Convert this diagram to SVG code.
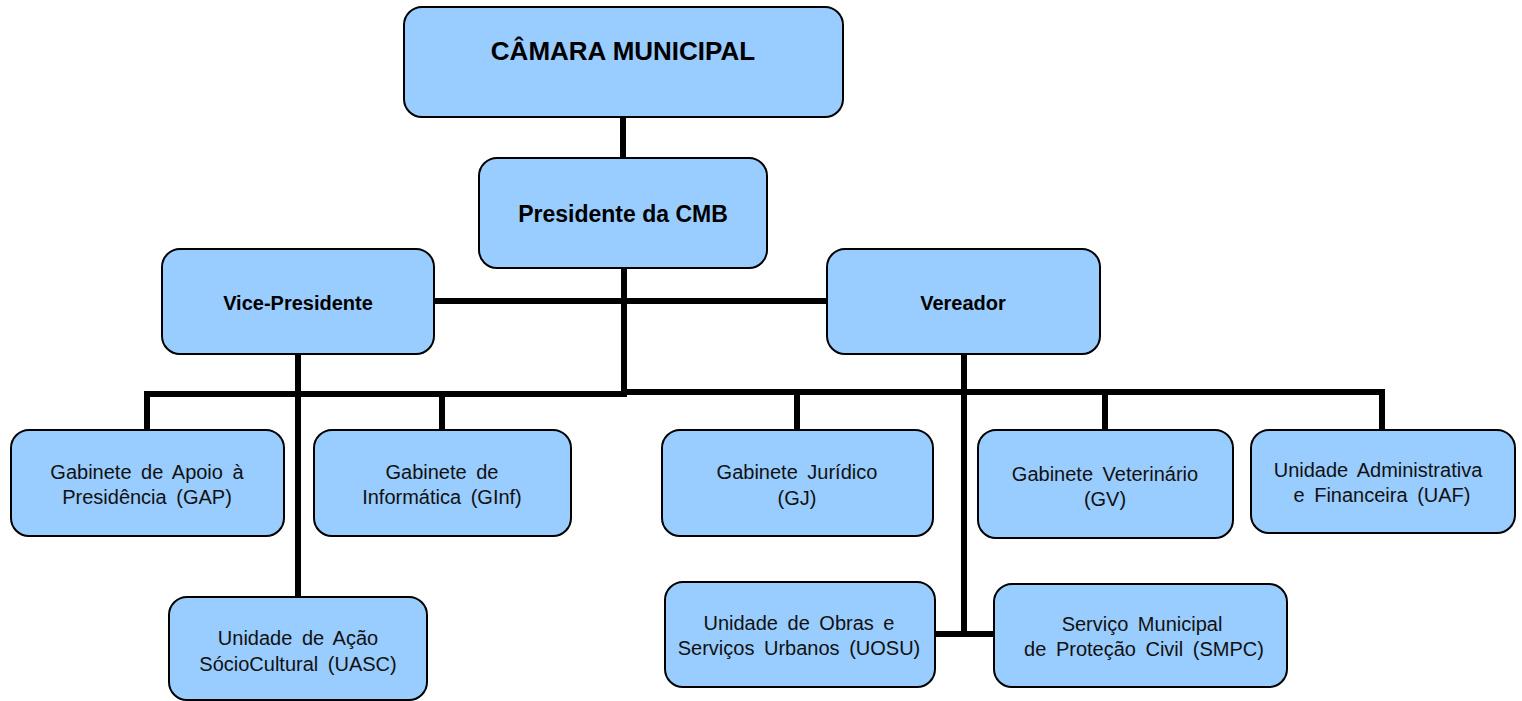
<svg xmlns="http://www.w3.org/2000/svg" width="1522" height="701" viewBox="0 0 1522 701">
<style>
.box{fill:#99CCFF;stroke:#000;stroke-width:2}
.ln{fill:none;stroke:#000;stroke-width:6;stroke-linejoin:miter;stroke-linecap:butt}
.t{font-family:"Liberation Sans",Arial,sans-serif;font-size:20px;fill:#111;text-anchor:middle;word-spacing:4px}
.b{font-family:"Liberation Sans",Arial,sans-serif;font-weight:bold;fill:#000;text-anchor:middle}
</style>
<rect width="1522" height="701" fill="#fff"/>
<g id="connectors">
<path class="ln" d="M623,117 V158"/>
<path class="ln" d="M624,268 V394"/>
<path class="ln" d="M434,301 H828"/>
<path class="ln" d="M147,430 V394 H627"/>
<path class="ln" d="M621,392 H1382 V430"/>
<path class="ln" d="M442,394 V430"/>
<path class="ln" d="M797,392 V430"/>
<path class="ln" d="M1105,392 V430"/>
<path class="ln" d="M298,354 V597"/>
<path class="ln" d="M964,354 V634"/>
<path class="ln" d="M935,634 H994"/>
</g>
<g id="camara">
<rect class="box" x="404" y="7" width="439" height="110" rx="18"/>
<text class="b" x="623" y="60" font-size="26">CÂMARA MUNICIPAL</text>
</g>
<g id="presidente">
<rect class="box" x="479" y="158" width="288" height="110" rx="18"/>
<text class="b" x="623" y="222" font-size="23">Presidente da CMB</text>
</g>
<g id="vice">
<rect class="box" x="162" y="249" width="272" height="105" rx="18"/>
<text class="b" x="298" y="310" font-size="20">Vice-Presidente</text>
</g>
<g id="vereador">
<rect class="box" x="827" y="249" width="273" height="105" rx="18"/>
<text class="b" x="963" y="310" font-size="20">Vereador</text>
</g>
<g id="gap">
<rect class="box" x="11" y="430" width="273" height="106" rx="18"/>
<text class="t" x="147" y="479">Gabinete de Apoio à</text>
<text class="t" x="147" y="504">Presidência (GAP)</text>
</g>
<g id="ginf">
<rect class="box" x="314" y="430" width="257" height="106" rx="18"/>
<text class="t" x="442" y="479">Gabinete de</text>
<text class="t" x="442" y="504">Informática (GInf)</text>
</g>
<g id="gj">
<rect class="box" x="662" y="430" width="271" height="106" rx="18"/>
<text class="t" x="797" y="479">Gabinete Jurídico</text>
<text class="t" x="797" y="505">(GJ)</text>
</g>
<g id="gv">
<rect class="box" x="978" y="430" width="255" height="108" rx="18"/>
<text class="t" x="1105" y="481">Gabinete Veterinário</text>
<text class="t" x="1105" y="506">(GV)</text>
</g>
<g id="uaf">
<rect class="box" x="1251" y="430" width="264" height="103" rx="18"/>
<text class="t" x="1378" y="477">Unidade Administrativa</text>
<text class="t" x="1382" y="502">e Financeira (UAF)</text>
</g>
<g id="uasc">
<rect class="box" x="169" y="597" width="258" height="103" rx="18"/>
<text class="t" x="298" y="645">Unidade de Ação</text>
<text class="t" x="298" y="671">SócioCultural (UASC)</text>
</g>
<g id="uosu">
<rect class="box" x="665" y="582" width="270" height="105" rx="18"/>
<text class="t" x="799" y="630">Unidade de Obras e</text>
<text class="t" x="799" y="655">Serviços Urbanos (UOSU)</text>
</g>
<g id="smpc">
<rect class="box" x="994" y="584" width="293" height="103" rx="18"/>
<text class="t" x="1142" y="631">Serviço Municipal</text>
<text class="t" x="1144" y="656">de Proteção Civil (SMPC)</text>
</g>
</svg>
